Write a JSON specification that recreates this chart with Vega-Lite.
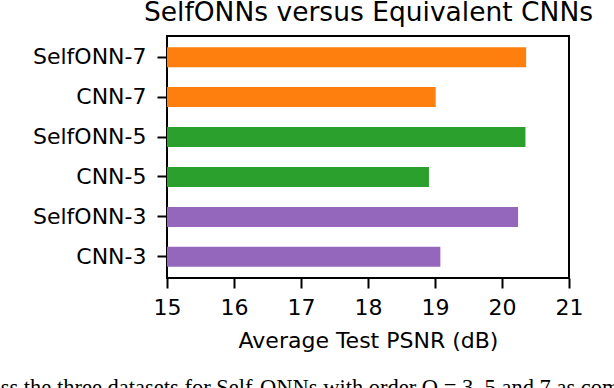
{
  "$schema": "https://vega.github.io/schema/vega-lite/v6.json",
  "width": 402,
  "height": 242,
  "autosize": {"type": "none"},
  "padding": {"left": 167, "top": 36, "right": 45, "bottom": 110},
  "title": {
    "text": "across the three datasets for Self-ONNs with order Q = 3, 5 and 7 as compared",
    "orient": "bottom",
    "anchor": "start",
    "frame": "group",
    "dx": -205,
    "offset": 26,
    "baseline": "top",
    "font": "Liberation Serif",
    "fontSize": 22.5,
    "fontWeight": "normal",
    "color": "black"
  },
  "config": {
    "view": {"stroke": "black", "strokeWidth": 2},
    "axis": {
      "labelFont": "DejaVu Sans",
      "titleFont": "DejaVu Sans",
      "labelColor": "black",
      "titleColor": "black",
      "tickColor": "black",
      "domain": false,
      "grid": false,
      "titleFontWeight": "normal"
    }
  },
  "data": {
    "values": [
      {"model": "SelfONN-7", "order": "7", "psnr": 20.36},
      {"model": "CNN-7", "order": "7", "psnr": 19.01},
      {"model": "SelfONN-5", "order": "5", "psnr": 20.35},
      {"model": "CNN-5", "order": "5", "psnr": 18.91},
      {"model": "SelfONN-3", "order": "3", "psnr": 20.24},
      {"model": "CNN-3", "order": "3", "psnr": 19.08}
    ]
  },
  "layer": [
    {
      "mark": {"type": "bar"},
      "encoding": {
        "y": {
          "field": "model",
          "type": "nominal",
          "sort": ["SelfONN-7", "CNN-7", "SelfONN-5", "CNN-5", "SelfONN-3", "CNN-3"],
          "scale": {"paddingInner": 0.5, "paddingOuter": 0.28},
          "axis": {
            "title": null,
            "labelFontSize": 22,
            "tickSize": 10,
            "tickWidth": 2,
            "labelPadding": 11
          }
        },
        "x": {
          "field": "psnr",
          "type": "quantitative",
          "scale": {"domain": [15, 21], "zero": false, "nice": false},
          "axis": {
            "title": "Average Test PSNR (dB)",
            "values": [15, 16, 17, 18, 19, 20, 21],
            "format": "d",
            "labelFontSize": 22,
            "titleFontSize": 22,
            "tickSize": 10,
            "tickWidth": 2,
            "labelPadding": 9,
            "titlePadding": 12,
            "labelFlush": false
          }
        },
        "x2": {"datum": 15},
        "color": {
          "field": "order",
          "type": "nominal",
          "scale": {"domain": ["7", "5", "3"], "range": ["#ff7f0e", "#2ca02c", "#9467bd"]},
          "legend": null
        }
      }
    },
    {
      "mark": {"type": "bar", "opacity": 0},
      "encoding": {
        "y": {
          "field": "model",
          "type": "nominal",
          "sort": ["SelfONN-7", "CNN-7", "SelfONN-5", "CNN-5", "SelfONN-3", "CNN-3"]
        },
        "x": {
          "field": "psnr",
          "type": "quantitative",
          "scale": {"domain": [15, 21], "zero": false, "nice": false},
          "axis": {
            "title": "SelfONNs versus Equivalent CNNs",
            "orient": "top",
            "labels": false,
            "ticks": false,
            "titleFontSize": 26.5,
            "titlePadding": 16,
            "titleBaseline": "alphabetic"
          }
        }
      }
    }
  ],
  "resolve": {"scale": {"x": "independent"}, "axis": {"x": "independent"}}
}
